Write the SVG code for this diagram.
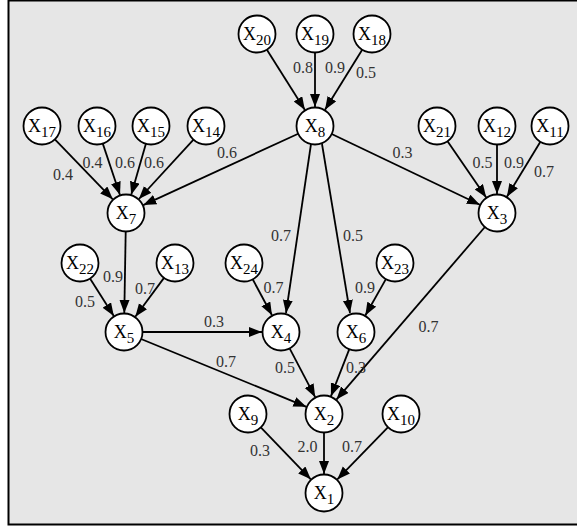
<svg xmlns="http://www.w3.org/2000/svg" width="577" height="527" viewBox="0 0 577 527">
<style>
.n circle{fill:#fff;stroke:#000;stroke-width:1.8}
.n text{font-family:"Liberation Serif","Times New Roman",serif;font-size:18px;fill:#000;text-anchor:middle}
.n tspan.s{font-size:15px}
.e line{stroke:#000;stroke-width:1.8;marker-end:url(#ah)}
.l text{font-family:"Liberation Serif","Times New Roman",serif;font-size:16px;fill:#333;text-anchor:middle}
</style>
<defs>
<marker id="ah" markerUnits="userSpaceOnUse" markerWidth="14" markerHeight="11" refX="13" refY="5" orient="auto">
<path d="M0,0 L13,5 L0,10 z" fill="#000"/>
</marker>
</defs>
<rect x="0" y="0" width="577" height="527" fill="#fff"/>
<rect x="8.5" y="0.5" width="572" height="524" fill="#e6e6e6" stroke="#000" stroke-width="2"/>
<g id="connectors" class="e">
<line x1="266.9" y1="49.7" x2="304.9" y2="109.9"/>
<line x1="315" y1="52.5" x2="315" y2="107"/>
<line x1="362.2" y1="49.7" x2="325" y2="109.8"/>
<line x1="54.9" y1="139.3" x2="112.8" y2="199.3"/>
<line x1="102.8" y1="143.6" x2="120" y2="195"/>
<line x1="145.9" y1="143.8" x2="131.2" y2="194.7"/>
<line x1="193.5" y1="139.6" x2="138.9" y2="199"/>
<line x1="298.2" y1="133.7" x2="143.3" y2="205.1"/>
<line x1="311" y1="144" x2="286" y2="313"/>
<line x1="322" y1="144" x2="350" y2="313"/>
<line x1="331.7" y1="134" x2="479.9" y2="204.8"/>
<line x1="447.5" y1="141.2" x2="486.2" y2="197.4"/>
<line x1="497" y1="144.5" x2="497" y2="194"/>
<line x1="540.4" y1="141.8" x2="506.9" y2="196.8"/>
<line x1="125.7" y1="231.5" x2="124.3" y2="313"/>
<line x1="90" y1="278.6" x2="113.8" y2="316"/>
<line x1="164" y1="277.9" x2="135.3" y2="316.7"/>
<line x1="252.7" y1="279.3" x2="272" y2="315.3"/>
<line x1="142.5" y1="332" x2="262" y2="332"/>
<line x1="385.9" y1="279.1" x2="365.3" y2="315.5"/>
<line x1="141.1" y1="339" x2="306.4" y2="406.8"/>
<line x1="289.6" y1="348.4" x2="315.2" y2="397.2"/>
<line x1="349.3" y1="349.2" x2="330.9" y2="396.3"/>
<line x1="484.9" y1="227" x2="336.4" y2="399.6"/>
<line x1="260.8" y1="427.3" x2="310.8" y2="479.3"/>
<line x1="324" y1="432.5" x2="324" y2="474"/>
<line x1="388.1" y1="427.2" x2="337.3" y2="479.4"/>
</g>
<g id="labels" class="l">
<text x="303" y="73">0.8</text>
<text x="335" y="73">0.9</text>
<text x="366" y="78">0.5</text>
<text x="63" y="180">0.4</text>
<text x="92.5" y="168">0.4</text>
<text x="125" y="168">0.6</text>
<text x="154" y="168">0.6</text>
<text x="227" y="158">0.6</text>
<text x="402.5" y="158">0.3</text>
<text x="482.5" y="168">0.5</text>
<text x="514" y="168">0.9</text>
<text x="544" y="177">0.7</text>
<text x="113" y="282">0.9</text>
<text x="145" y="294">0.7</text>
<text x="85" y="307">0.5</text>
<text x="281" y="241">0.7</text>
<text x="353" y="241">0.5</text>
<text x="273.5" y="293">0.7</text>
<text x="365" y="293">0.9</text>
<text x="214" y="327">0.3</text>
<text x="428.5" y="332">0.7</text>
<text x="226" y="367">0.7</text>
<text x="285" y="373">0.5</text>
<text x="356" y="373">0.3</text>
<text x="260" y="456">0.3</text>
<text x="307.5" y="452">2.0</text>
<text x="352" y="452">0.7</text>
</g>
<g id="X20" class="n"><circle cx="257" cy="34" r="18.5"/><text x="257" y="40">X<tspan class="s" dy="5">20</tspan></text></g>
<g id="X19" class="n"><circle cx="315" cy="34" r="18.5"/><text x="315" y="40">X<tspan class="s" dy="5">19</tspan></text></g>
<g id="X18" class="n"><circle cx="372" cy="34" r="18.5"/><text x="372" y="40">X<tspan class="s" dy="5">18</tspan></text></g>
<g id="X8" class="n"><circle cx="315" cy="126" r="18.5"/><text x="315" y="132">X<tspan class="s" dy="5">8</tspan></text></g>
<g id="X17" class="n"><circle cx="42" cy="126" r="18.5"/><text x="42" y="132">X<tspan class="s" dy="5">17</tspan></text></g>
<g id="X16" class="n"><circle cx="97" cy="126" r="18.5"/><text x="97" y="132">X<tspan class="s" dy="5">16</tspan></text></g>
<g id="X15" class="n"><circle cx="151" cy="126" r="18.5"/><text x="151" y="132">X<tspan class="s" dy="5">15</tspan></text></g>
<g id="X14" class="n"><circle cx="206" cy="126" r="18.5"/><text x="206" y="132">X<tspan class="s" dy="5">14</tspan></text></g>
<g id="X21" class="n"><circle cx="437" cy="126" r="18.5"/><text x="437" y="132">X<tspan class="s" dy="5">21</tspan></text></g>
<g id="X12" class="n"><circle cx="497" cy="126" r="18.5"/><text x="497" y="132">X<tspan class="s" dy="5">12</tspan></text></g>
<g id="X11" class="n"><circle cx="550" cy="126" r="18.5"/><text x="550" y="132">X<tspan class="s" dy="5">11</tspan></text></g>
<g id="X7" class="n"><circle cx="126" cy="213" r="18.5"/><text x="126" y="219">X<tspan class="s" dy="5">7</tspan></text></g>
<g id="X3" class="n"><circle cx="497" cy="213" r="18.5"/><text x="497" y="219">X<tspan class="s" dy="5">3</tspan></text></g>
<g id="X22" class="n"><circle cx="80" cy="263" r="18.5"/><text x="80" y="269">X<tspan class="s" dy="5">22</tspan></text></g>
<g id="X13" class="n"><circle cx="175" cy="263" r="18.5"/><text x="175" y="269">X<tspan class="s" dy="5">13</tspan></text></g>
<g id="X24" class="n"><circle cx="244" cy="263" r="18.5"/><text x="244" y="269">X<tspan class="s" dy="5">24</tspan></text></g>
<g id="X23" class="n"><circle cx="395" cy="263" r="18.5"/><text x="395" y="269">X<tspan class="s" dy="5">23</tspan></text></g>
<g id="X5" class="n"><circle cx="124" cy="332" r="18.5"/><text x="124" y="338">X<tspan class="s" dy="5">5</tspan></text></g>
<g id="X4" class="n"><circle cx="281" cy="332" r="18.5"/><text x="281" y="338">X<tspan class="s" dy="5">4</tspan></text></g>
<g id="X6" class="n"><circle cx="356" cy="332" r="18.5"/><text x="356" y="338">X<tspan class="s" dy="5">6</tspan></text></g>
<g id="X9" class="n"><circle cx="248" cy="414" r="18.5"/><text x="248" y="420">X<tspan class="s" dy="5">9</tspan></text></g>
<g id="X2" class="n"><circle cx="324" cy="414" r="18.5"/><text x="324" y="420">X<tspan class="s" dy="5">2</tspan></text></g>
<g id="X10" class="n"><circle cx="401" cy="414" r="18.5"/><text x="401" y="420">X<tspan class="s" dy="5">10</tspan></text></g>
<g id="X1" class="n"><circle cx="324" cy="493" r="18.5"/><text x="324" y="499">X<tspan class="s" dy="5">1</tspan></text></g>
</svg>
